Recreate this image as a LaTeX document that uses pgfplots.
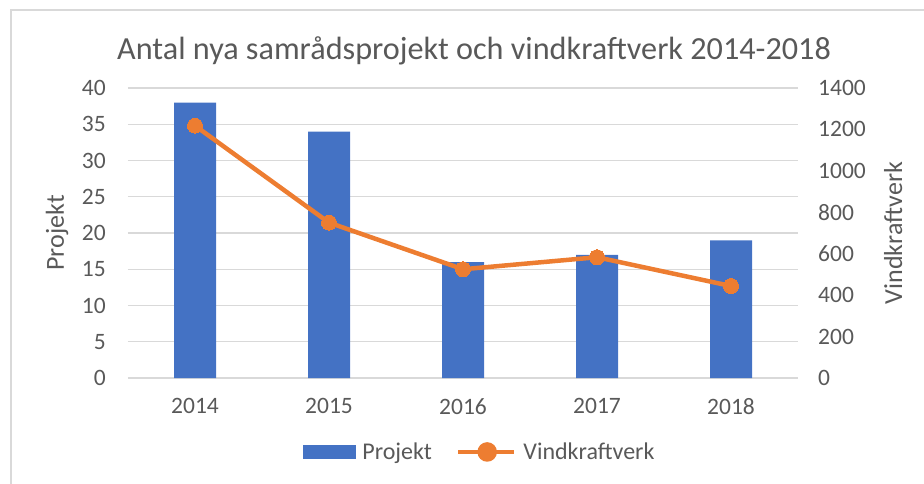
\documentclass[border=0pt]{standalone}
\usepackage{pgfplots}
\pgfplotsset{compat=1.18}
\usepackage{fontspec}
\setmainfont{Carlito}
\definecolor{barblue}{HTML}{4472C4}
\definecolor{lineorange}{HTML}{ED7D31}
\definecolor{gridgray}{HTML}{D9D9D9}
\definecolor{textgray}{HTML}{595959}
\definecolor{framegray}{HTML}{D9D9D9}
\begin{document}
\begin{tikzpicture}[x=1pt,y=1pt]
\path[use as bounding box] (0,0) rectangle (924,483);
\draw[framegray, line width=1.2pt] (11,-2) -- (11,473) -- (930,473);
\node[text=textgray, font=\fontsize{32.2}{37}\selectfont] at (474,432) {Antal nya samrådsprojekt och vindkraftverk 2014-2018};
\begin{axis}[
  at={(128pt,105pt)}, anchor=south west, scale only axis,
  width=670pt, height=290pt,
  xmin=-0.5, xmax=4.5, ymin=0, ymax=40,
  ytick={0,5,...,40},
  xtick={0,1,2,3,4}, xticklabels={2014,2015,2016,2017,2018},
  /pgf/number format/assume math mode=true,
  /pgf/number format/set thousands separator={},
  axis line style={draw=none},
  major tick length=0pt,
  ymajorgrids, grid style={gridgray, line width=1.3pt},
  tick label style={font=\fontsize{23.5}{28}\selectfont, text=textgray, inner sep=0pt},
  yticklabel style={anchor=east, xshift=-22pt},
  xticklabel style={anchor=north, yshift=-20pt},
  every axis y label/.style={at={(axis description cs:-0.106,0.5)}, rotate=90, anchor=center,
    font=\fontsize{26}{30}\selectfont, text=textgray},
  ylabel={Projekt},
  clip=false,
]
\addplot[ybar, bar width=42pt, bar shift=0pt, fill=barblue, draw=none]
  coordinates {(0,38) (1,34) (2,16) (3,17) (4,19)};
\end{axis}
\begin{axis}[
  at={(128pt,105pt)}, anchor=south west, scale only axis,
  width=670pt, height=290pt,
  xmin=-0.5, xmax=4.5, ymin=0, ymax=1400,
  ytick={0,200,...,1400},
  axis y line*=right, axis x line=none,
  /pgf/number format/assume math mode=true,
  /pgf/number format/set thousands separator={},
  axis line style={draw=none},
  major tick length=0pt,
  tick label style={font=\fontsize{23.5}{28}\selectfont, text=textgray, inner sep=0pt},
  yticklabel style={anchor=west, xshift=20pt},
  every axis y label/.style={at={(axis description cs:1.142,0.5)}, rotate=90, anchor=center,
    font=\fontsize{26}{30}\selectfont, text=textgray},
  ylabel={Vindkraftverk},
  clip=false,
  legend columns=2,
  legend style={draw=none, fill=none, at={(axis description cs:0.525,-0.255)}, anchor=center,
    font=\fontsize{24}{28}\selectfont, text=textgray,
    /tikz/every even column/.append style={column sep=22pt},
    /tikz/every odd column/.append style={column sep=5pt}},
]
\addlegendimage{legend image code/.code={\fill[barblue] (0pt,-6.5pt) rectangle (52pt,6.5pt);}}
\addlegendentry{Projekt}
\addplot[lineorange, line width=4.5pt, mark=*, mark size=7.5pt,
  mark options={fill=lineorange, draw=lineorange, line width=0pt},
  legend image code/.code={\draw[lineorange, line width=4.5pt] (0pt,0pt) -- (56pt,0pt);
     \fill[lineorange] (29pt,0pt) circle (7.5pt);}]
  coordinates {(0,1218) (1,750) (2,525) (3,583) (4,444)};
\addlegendentry{Vindkraftverk}
\end{axis}
\end{tikzpicture}
\end{document}
